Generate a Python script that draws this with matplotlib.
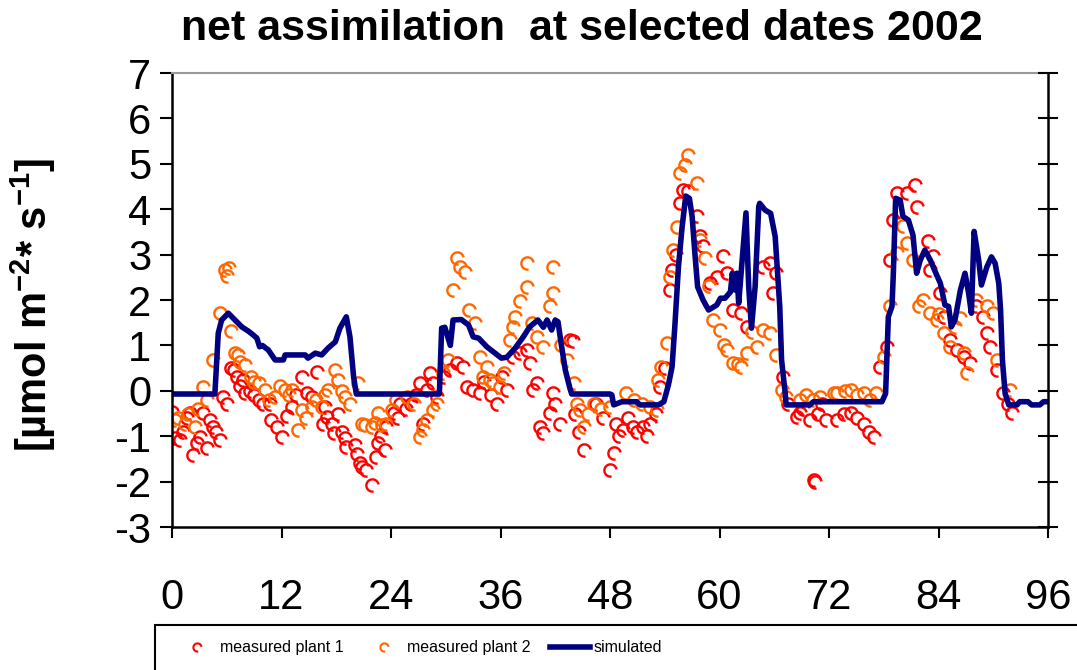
import matplotlib
matplotlib.use("Agg")
import matplotlib.pyplot as plt
from matplotlib.path import Path
from matplotlib.patches import Rectangle
from matplotlib.lines import Line2D

plt.rcParams['font.family'] = ['Liberation Sans', 'DejaVu Sans']
plt.rcParams['axes.unicode_minus'] = False
plt.rcParams['mathtext.fontset'] = 'custom'
plt.rcParams['mathtext.rm'] = 'Liberation Sans'
plt.rcParams['mathtext.bf'] = 'Liberation Sans:bold'

# simulated net assimilation (hours since start, umol m-2 s-1)
sim_hour = [0, 4.7, 5.07, 5.44, 6.17, 7.64, 8.4, 8.9, 9.3, 9.6, 9.9, 10.55, 11.3, 12.2, 12.4,
            14.6, 14.9, 15.7, 16.4, 17.1, 17.9, 18.4, 19.1, 19.5, 19.9, 20.2,
            29.3, 29.55, 29.9, 30.5, 30.8, 31.7, 32.5, 33.0, 33.6, 34.5, 35.2, 36.1, 36.7,
            37.6, 38.5, 39.2, 40.1, 40.7, 41.1, 41.6, 42.0, 42.3, 42.7, 43.1, 43.6, 43.8,
            48.0, 48.2, 48.4, 49.3, 50.9, 51.3, 53.3, 53.9, 54.4, 54.8, 55.1, 55.5, 55.9,
            56.3, 56.7, 57.0, 57.3, 57.6, 58.2, 58.8, 59.7, 60.1, 60.6, 61.2, 61.4, 61.7,
            61.9, 62.1, 62.9, 63.2, 63.5, 63.9, 64.3, 64.4, 65.0, 65.6, 66.1, 66.6, 66.8,
            67.2, 67.3, 69.9, 70.3, 77.8, 78.2, 78.5, 78.9, 79.05, 79.3, 79.8, 80.1, 80.7,
            81.2, 81.6, 82.0, 82.5, 83.1, 83.8, 84.2, 84.7, 85.1, 85.4, 85.8, 86.4, 86.9,
            87.3, 87.6, 87.9, 88.4, 88.7, 89.3, 89.8, 90.2, 90.6, 90.8, 91.0, 91.3, 91.7,
            92.6, 92.9, 93.8, 94.2, 95.1, 95.5, 96]
sim_value = [-0.07, -0.07, 1.27, 1.56, 1.71, 1.41, 1.31, 1.23, 1.16, 0.97, 1.0, 0.9, 0.68, 0.68, 0.79,
             0.79, 0.72, 0.83, 0.79, 0.94, 1.08, 1.38, 1.63, 1.19, 0.31, -0.07,
             -0.07, 1.38, 1.40, 1.0, 1.56, 1.57, 1.45, 1.19, 1.16, 0.97, 0.86, 0.72, 0.74,
             0.94, 1.19, 1.41, 1.56, 1.40, 1.56, 1.34, 1.56, 1.52, 0.97, 0.46, 0.06, -0.07,
             -0.07, -0.09, -0.31, -0.24, -0.24, -0.31, -0.31, -0.24, 0.13, 0.53, 1.41, 2.73, 3.61,
             4.29, 4.24, 3.84, 3.03, 2.29, 2.0, 1.78, 1.89, 2.04, 2.04, 2.18, 2.59, 2.22,
             2.59, 1.93, 3.92, 2.29, 1.38, 2.29, 4.06, 4.13, 3.98, 3.91, 3.40, 1.86, 0.68,
             -0.06, -0.31, -0.31, -0.24, -0.24, -0.06, 1.63, 1.86, 2.59, 4.24, 4.20, 3.84, 3.76,
             3.43, 2.59, 2.88, 3.10, 2.88, 2.55, 2.37, 1.89, 1.86, 1.41, 1.56, 2.22, 2.59,
             2.15, 1.71, 3.51, 2.88, 2.33, 2.73, 2.95, 2.81, 2.37, 1.78, 0.68, -0.06, -0.31,
             -0.31, -0.24, -0.24, -0.31, -0.31, -0.24, -0.24]

# measured plant 1
p1_hour = [0, 0.3, 0.9, 1.2, 1.6, 2.0, 2.3, 2.7, 3.1, 3.4, 3.8, 4.2, 4.5, 4.8, 5.3, 5.6, 6.0, 6.5,
           6.8, 7.1, 7.4, 7.8, 8.0, 8.5, 9.0, 9.5, 10.0, 10.7, 10.9, 11.5, 12.0, 12.6, 13.2, 13.6,
           14.2, 14.8, 15.3, 15.9, 16.6, 16.8, 17.0, 17.5, 17.7, 18.2, 18.6, 19.0, 19.1, 20.0,
           20.3, 20.6, 20.8, 21.3, 21.9, 22.4, 22.6, 22.9, 23.3, 23.5, 24.3, 24.8, 25.0, 25.6,
           26.2, 26.7, 27.2, 27.5, 27.9, 28.3, 28.6, 29.0, 29.8, 30.5, 31.2, 31.9, 32.3, 33.0,
           33.8, 34.2, 35.0, 35.6, 36.2, 36.7, 37.4, 38.1, 38.9, 39.2, 39.6, 40.0, 40.3, 40.7,
           41.4, 41.8, 42.0, 42.5, 43.6, 43.9, 44.2, 44.6, 45.1, 46.5, 47.2, 48.0, 48.4, 48.7,
           49.0, 49.4, 50.0, 50.5, 51.0, 51.6, 52.0, 52.4, 53.0, 53.5, 54.0, 54.6, 54.8, 55.2,
           55.7, 56.0, 56.5, 57.5, 57.9, 58.2, 59.0, 59.7, 60.4, 60.8, 61.5, 62.3, 63.0, 64.8,
           65.5, 65.9, 66.2, 67.0, 67.5, 68.5, 68.8, 69.2, 69.9, 70.3, 70.5, 70.8, 71.2, 71.7,
           72.9, 73.6, 74.4, 75.1, 75.8, 76.4, 76.9, 77.6, 78.3, 78.7, 79.0, 79.4, 80.5, 81.4,
           81.6, 82.9, 83.1, 83.4, 84.2, 84.6, 85.3, 86.0, 86.8, 87.5, 88.1, 88.9, 89.3, 89.6,
           90.4, 91.1, 91.6, 92.0]
p1_value = [-0.46, -1.05, -1.08, -0.9, -0.6, -0.49, -1.41, -1.16, -1.01, -0.49, -1.25, -0.64, -0.79,
            -0.9, -1.08, -0.13, -0.28, 0.5, 0.45, 0.31, 0.1, 0.24, -0.05, 0.0, -0.1, -0.2, -0.3,
            -0.28, -0.64, -0.79, -1.01, -0.55, -0.35, -0.1, 0.31, -0.05, -0.13, 0.42, -0.72, -0.35,
            -0.57, -0.72, -0.94, -0.5, -0.9, -1.05, -1.23, -1.2, -1.4, -1.6, -1.67, -1.74, -2.07,
            -1.45, -1.16, -1.0, -1.3, -0.79, -0.49, -0.6, -0.28, -0.4, -0.3, -0.1, 0.17, -0.72,
            0.02, 0.39, 0.17, -0.13, 0.3, 0.46, 0.61, 0.53, 0.09, 0.02, -0.05, 0.2, -0.1, -0.28,
            0.3, 0.02, 0.75, 0.83, 0.9, 0.61, 0.02, 0.17, -0.79, -0.94, -0.49, -0.05, -0.3, -0.72,
            1.12, 1.1, -0.5, -0.9, -1.3, -0.3, -0.6, -1.74, -1.38, -0.72, -1.0, -0.86, -0.6,
            -0.79, -0.9, -0.79, -1.0, -0.72, -0.5, 0.09, 0.5, 2.22, 2.66, 3.0, 4.13, 4.42, 4.4,
            3.84, 3.40, 3.18, 2.37, 2.51, 2.96, 2.59, 1.78, 1.71, 1.41, 2.73, 2.81, 2.15, 2.59,
            0.3, -0.3, -0.57, -0.49, -0.4, -0.64, -1.96, -2.0, -0.5, -0.3, -0.64, -0.64, -0.5,
            -0.49, -0.6, -0.72, -0.9, -1.01, 0.53, 0.97, 2.88, 3.76, 4.35, 4.35, 4.53, 4.06,
            3.29, 2.66, 2.96, 2.15, 1.63, 1.12, 0.9, 0.75, 0.61, 1.86, 1.63, 1.27, 0.97, 0.46,
            -0.05, -0.3, -0.49]

# measured plant 2
p2_hour = [0.3, 0.7, 1.4, 1.8, 2.5, 2.9, 3.4, 3.8, 4.5, 5.3, 5.8, 6.0, 6.2, 6.5, 6.9, 7.2, 7.5,
           8.0, 8.7, 9.0, 9.5, 10.2, 10.6, 11.3, 11.8, 12.4, 12.8, 13.1, 13.8, 14.2, 14.7, 15.3,
           15.8, 16.4, 16.8, 17.1, 17.9, 18.2, 18.6, 19.0, 19.5, 20.4, 20.8, 21.2, 21.9, 22.2,
           22.6, 23.0, 23.5, 24.1, 24.6, 25.7, 26.5, 27.2, 27.5, 27.9, 28.6, 29.0, 29.7, 30.3,
           30.8, 31.2, 31.6, 32.1, 32.5, 33.2, 33.8, 34.1, 34.5, 34.8, 35.2, 35.9, 36.4, 37.0,
           37.4, 37.6, 38.1, 38.9, 38.9, 39.5, 40.0, 40.7, 41.4, 41.8, 41.8, 42.6, 43.3, 44.0,
           44.4, 44.7, 45.1, 45.6, 46.3, 47.0, 48.0, 49.8, 50.6, 51.5, 52.4, 53.1, 53.3, 53.6,
           54.2, 54.6, 54.9, 55.3, 55.7, 56.2, 56.6, 57.5, 57.9, 58.4, 58.8, 59.3, 60.1, 60.5,
           60.8, 61.5, 62.0, 62.3, 63.0, 63.6, 64.1, 64.8, 65.5, 66.2, 66.8, 67.3, 68.8, 69.5,
           70.2, 71.0, 72.5, 72.9, 73.7, 74.4, 75.1, 75.8, 76.5, 77.2, 78.0, 78.7, 79.4, 80.1,
           80.5, 81.2, 81.9, 82.3, 83.1, 83.8, 84.0, 84.6, 85.3, 85.8, 86.4, 86.8, 87.1, 88.1,
           89.3, 90.0, 90.4, 91.8]
p2_value = [-0.64, -0.6, -0.72, -0.5, -0.79, -0.4, 0.09, -0.2, 0.68, 1.71, 2.66, 2.52, 2.7, 1.31,
            0.83, 0.8, 0.64, 0.57, 0.31, 0.2, 0.17, 0.02, -0.2, -0.13, 0.1, 0.02, -0.1, 0.02,
            -0.86, -0.42, -0.6, -0.35, -0.2, -0.35, -0.1, 0.02, 0.46, 0.24, 0.0, -0.13, -0.3,
            0.17, -0.72, -0.75, -0.79, -0.7, -0.49, -0.75, -0.72, -0.42, -0.2, -0.13, -0.3, -1.01,
            -0.86, -0.64, -0.42, -0.28, 0.39, 0.68, 2.22, 2.92, 2.73, 2.62, 1.78, 1.49, 0.75,
            0.31, 0.53, 0.24, 0.17, 0.09, 0.4, 1.12, 1.41, 1.63, 1.97, 2.29, 2.81, 1.5, 1.19,
            0.97, 1.86, 2.15, 2.73, 1.0, 0.68, 0.17, -0.28, -0.42, -0.79, -0.5, -0.3, -0.4, -0.35,
            -0.05, -0.2, -0.3, -0.35, -0.42, 0.24, 0.53, 1.05, 2.51, 3.10, 3.6, 4.79, 4.97, 5.19,
            4.57, 3.32, 2.92, 2.3, 1.56, 1.34, 1.0, 0.9, 0.61, 0.6, 0.53, 0.83, 1.3, 0.97, 1.34,
            1.27, 0.8, 0.02, -0.13, -0.2, -0.1, -0.2, -0.13, -0.05, -0.05, 0.0, 0.02, -0.1, -0.05,
            -0.2, -0.05, 0.75, 1.86, 3.03, 3.62, 3.25, 2.88, 1.86, 2.0, 1.71, 1.56, 1.7, 1.27,
            0.97, 1.4, 1.6, 0.83, 0.39, 2.0, 1.86, 1.71, 0.68, 0.02]

# open hook-shaped marker like the original spreadsheet symbol
hook = Path.arc(10, 280)

fig = plt.figure(figsize=(10.77, 6.7), dpi=100)
ax = fig.add_axes([0.1597, 0.2134, 0.8134, 0.6776])

ax.plot(p1_hour, p1_value, linestyle='none', marker=hook, markersize=9,
        markerfacecolor='none', markeredgecolor='#ff0000', markeredgewidth=1.7,
        label='measured plant 1')
ax.plot(p2_hour, p2_value, linestyle='none', marker=hook, markersize=9,
        markerfacecolor='none', markeredgecolor='#ff6600', markeredgewidth=1.7,
        label='measured plant 2')
ax.plot(sim_hour, sim_value, color='#000080', linewidth=4, label='simulated')

ax.set_xlim(0, 96)
ax.set_ylim(-3, 7)
ax.set_xticks(range(0, 97, 12))
ax.set_yticks(range(-3, 8))
ax.tick_params(axis='x', direction='out', length=8, width=1.5, labelsize=30, pad=29)
ax.tick_params(axis='y', direction='out', length=9, width=1.5, labelsize=30, pad=6)
for s in ['left', 'bottom', 'right']:
    ax.spines[s].set_linewidth(1.8)
ax.spines['top'].set_color('#999999')
ax.spines['top'].set_linewidth(1.5)

ax2 = ax.twinx()
ax2.set_ylim(-3, 7)
ax2.set_yticks(range(-3, 8))
ax2.tick_params(axis='y', direction='inout', length=14, width=1.5, labelright=False)
for s in ax2.spines.values():
    s.set_visible(False)

ax.set_ylabel(r'[µmol m$^{\mathbf{-2}}$* s$^{\mathbf{-1}}$]', fontsize=30, fontweight='bold')
ax.yaxis.set_label_coords(-0.13, 0.49)
fig.text(0.54, 0.957, 'net assimilation  at selected dates 2002', ha='center', va='center',
         fontsize=31, fontweight='bold')

# legend box running off the bottom right of the figure
fig.patches.append(Rectangle((0.144, -0.1), 1.0, 0.167, transform=fig.transFigure,
                             facecolor='white', edgecolor='black', linewidth=1.5))
handles, labels = ax.get_legend_handles_labels()
leg_handles = [
    Line2D([], [], linestyle='none', marker=hook, markersize=6, markerfacecolor='none',
           markeredgecolor='#ff0000', markeredgewidth=1.5),
    Line2D([], [], linestyle='none', marker=hook, markersize=6, markerfacecolor='none',
           markeredgecolor='#ff6600', markeredgewidth=1.5),
    Line2D([], [], color='#000080', linewidth=4),
]
fig.legend(leg_handles, labels, loc='center left', bbox_to_anchor=(0.1643, 0.033), ncol=3,
           frameon=False, fontsize=11.5,
           handlelength=2.5, columnspacing=1.25, handletextpad=0.2,
           borderpad=0, borderaxespad=0)

fig.savefig('out.png', dpi=100)
